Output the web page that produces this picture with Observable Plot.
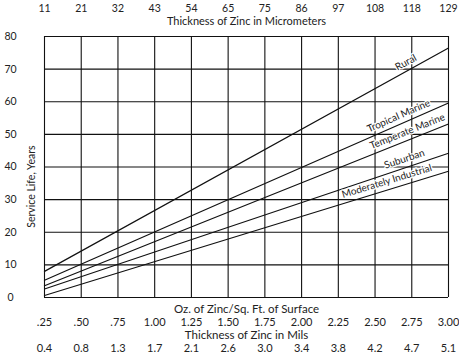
<!DOCTYPE html>
<html>
<head>
<meta charset="utf-8">
<script src="https://cdn.jsdelivr.net/npm/d3@7"></script>
<script src="https://cdn.jsdelivr.net/npm/@observablehq/plot@0.6"></script>
<style>
  html, body { margin: 0; padding: 0; background: #fff; }
  #chart svg { display: block; }
</style>
</head>
<body>
<div id="chart"></div>
<script>
// Oz. of zinc per sq. ft. (grid positions)
const ozTicks = [0.25, 0.5, 0.75, 1.0, 1.25, 1.5, 1.75, 2.0, 2.25, 2.5, 2.75, 3.0];
const ozLabels = [".25", ".50", ".75", "1.00", "1.25", "1.50", "1.75", "2.00", "2.25", "2.50", "2.75", "3.00"];
const microLabels = ["11", "21", "32", "43", "54", "65", "75", "86", "97", "108", "118", "129"];
const milsLabels = ["0.4", "0.8", "1.3", "1.7", "2.1", "2.6", "3.0", "3.4", "3.8", "4.2", "4.7", "5.1"];
const yTicks = [0, 10, 20, 30, 40, 50, 60, 70, 80];

// Service life lines (years) at 0.25 oz and 3.00 oz
const series = ["Rural", "Tropical Marine", "Temperate Marine", "Suburban", "Moderately Industrial"];
const lifeAtStart = [8.0, 5.3, 3.6, 2.6, 0.6];
const lifeAtEnd = [76.5, 59.6, 53.2, 44.2, 38.7];
const labelOz = [2.71, 2.66, 2.72, 2.70, 2.58];

const lineData = series.flatMap((s, i) => [
  {series: s, oz: 0.25, life: lifeAtStart[i]},
  {series: s, oz: 3.0, life: lifeAtEnd[i]}
]);

const W = 459, H = 355;
const mL = 44, mR = 11, mT = 36, mB = 58;
const pxPerOz = (W - mL - mR) / 2.75;
const pxPerYear = (H - mT - mB) / 80;

const labelData = series.map((s, i) => {
  const slope = (lifeAtEnd[i] - lifeAtStart[i]) / 2.75;
  const life = lifeAtStart[i] + slope * (labelOz[i] - 0.25);
  const angle = -Math.atan(slope * pxPerYear / pxPerOz) * 180 / Math.PI;
  return {series: s, oz: labelOz[i], life, angle};
});

const font = "Lato, 'Open Sans', sans-serif";
const txt = "#222";

const chart = Plot.plot({
  width: W,
  height: H,
  marginLeft: mL,
  marginRight: mR,
  marginTop: mT,
  marginBottom: mB,
  style: {fontFamily: font, background: "#fff", overflow: "visible"},
  x: {domain: [0.25, 3.0], axis: null},
  y: {domain: [0, 80], axis: null},
  marks: [
    Plot.ruleX(ozTicks, {stroke: "#111", strokeWidth: 1.1}),
    Plot.ruleY(yTicks, {stroke: "#111", strokeWidth: 1.1}),
    Plot.line(lineData, {x: "oz", y: "life", z: "series", stroke: "#111", strokeWidth: 1.2}),
    // line labels
    ...labelData.map(d => Plot.text([d], {
      x: "oz", y: "life", text: "series", rotate: d.angle, dy: -9,
      fontSize: 10, fill: txt, stroke: "white", strokeWidth: 2.5, fontFamily: font
    })),
    // y tick labels
    Plot.text(yTicks, {x: () => 0.25, y: d => d, text: d => String(d), dx: -34, textAnchor: "middle", fontSize: 10.5, fill: txt}),
    Plot.text(["Service Life, Years"], {x: () => 0.25, y: () => 34, dx: -13, rotate: -90, fontSize: 10.5, fill: txt}),
    // top axis: micrometers
    Plot.text(ozTicks, {x: d => d, y: () => 80, text: (d, i) => microLabels[i], dy: -28, fontSize: 10.5, fill: txt}),
    Plot.text(["Thickness of Zinc in Micrometers"], {x: () => 1.625, y: () => 80, dy: -15, fontSize: 11, fill: txt}),
    // bottom axes
    Plot.text(["Oz. of Zinc/Sq. Ft. of Surface"], {x: () => 1.625, y: () => 0, dy: 12, fontSize: 11.5, fill: txt}),
    Plot.text(ozTicks, {x: d => d, y: () => 0, text: (d, i) => ozLabels[i], dy: 25, fontSize: 11, fill: txt}),
    Plot.text(["Thickness of Zinc in Mils"], {x: () => 1.625, y: () => 0, dy: 38, fontSize: 11.5, fill: txt}),
    Plot.text(ozTicks, {x: d => d, y: () => 0, text: (d, i) => milsLabels[i], dy: 51, fontSize: 11, fill: txt})
  ]
});

document.getElementById("chart").appendChild(chart);
</script>
</body>
</html>
